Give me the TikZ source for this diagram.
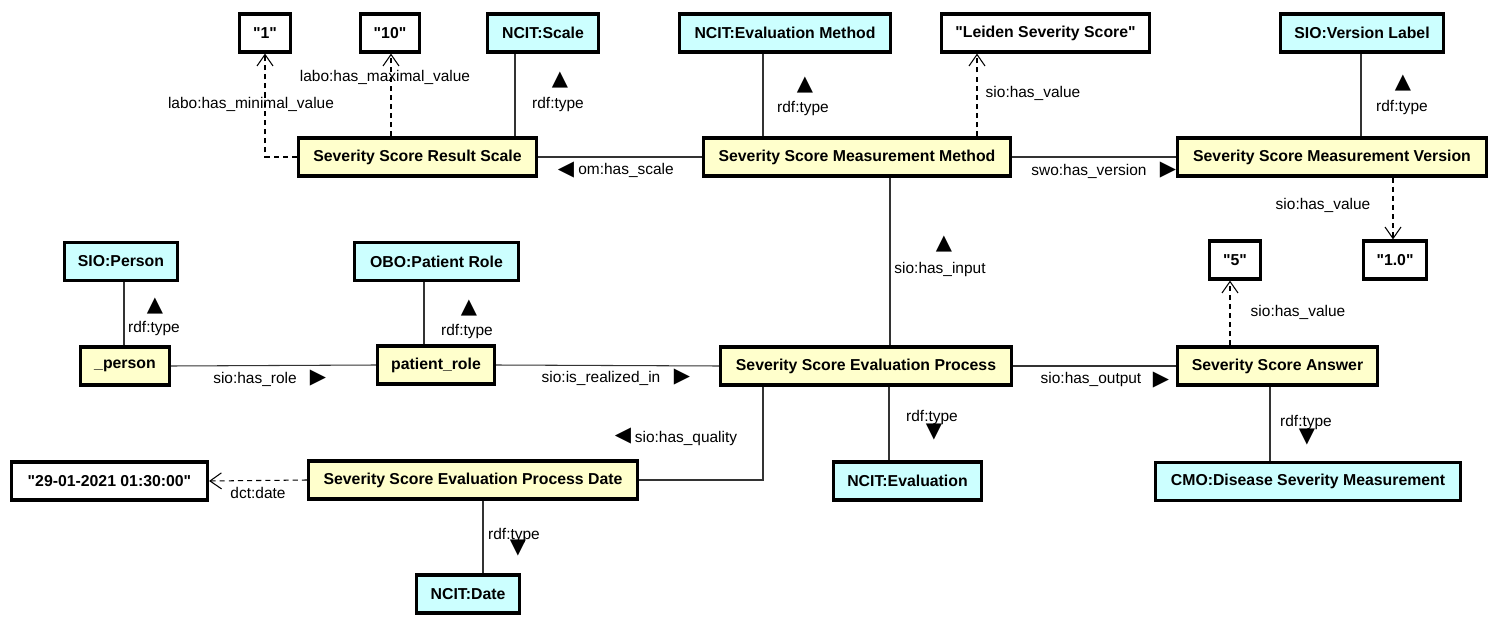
\documentclass[tikz,border=0pt]{standalone}
\usepackage{fontspec}
\setmainfont{Liberation Sans}
\newfontfamily\trifont{DejaVu Sans}
\usepackage{tikz}
\usetikzlibrary{arrows.meta}
\definecolor{InstYellow}{HTML}{FFFFCC}
\definecolor{ClassCyan}{HTML}{CCFFFF}
\definecolor{EdgeGrey}{HTML}{333333}
\newcommand{\litq}[1]{\textquotedbl#1\textquotedbl}
\tikzset{
  box node/.style={rectangle, draw, line width=1.8pt, minimum height=0.76cm,
                   inner sep=0pt, font=\fontsize{9}{10}\selectfont\bfseries},
  inst node/.style={box node, fill=InstYellow},
  cls node/.style={box node, fill=ClassCyan},
  lit node/.style={box node, fill=white},
  rel edge/.style={line width=0.6pt, draw=EdgeGrey},
  val edge/.style={rel edge, draw=black, dash pattern=on 2.9pt off 2.3pt,
                   -{Straight Barb[length=2.3mm, width=3.2mm]}},
  rel label/.style={inner sep=0pt, text height=0.72em, text depth=0.2em,
                    font=\fontsize{8.8}{10}\selectfont},
  dir mark/.style={inner sep=0pt, font=\trifont\fontsize{12}{12}\selectfont},
}

\begin{document}
\begin{tikzpicture}[x=0.02cm, y=-0.02cm]
  \path[use as bounding box, fill=white] (0,0) rectangle (1500,628);
  % literals and classes, top row
  \node[lit node, minimum width=1.02cm] (v1) at (265,33) {\litq{1}};
  \node[lit node, minimum width=1.18cm] (v10) at (390,33) {\litq{10}};
  \node[cls node, minimum width=2.22cm] (scale) at (543,33) {NCIT:Scale};
  \node[cls node, minimum width=4.22cm] (evalm) at (785,33) {NCIT:Evaluation Method};
  \node[lit node, minimum width=4.16cm] (leiden) at (1045.5,33) {\litq{Leiden Severity Score}};
  \node[cls node, minimum width=3.26cm] (verlbl) at (1362,33) {SIO:Version Label};
  % method row
  \node[inst node, minimum width=4.76cm] (rscale) at (417.5,157) {Severity Score Result Scale};
  \node[inst node, minimum width=6.14cm] (method) at (857,157) {Severity Score Measurement Method};
  \node[inst node, minimum width=6.18cm] (version) at (1332,157) {Severity Score Measurement Version};
  \node[lit node, minimum width=1.02cm] (v5) at (1235,260) {\litq{5}};
  \node[lit node, minimum width=1.26cm] (v1p0) at (1395,260) {\litq{1.0}};
  \node[cls node, minimum width=2.26cm] (sioperson) at (121,261.5) {SIO:Person};
  \node[cls node, minimum width=3.28cm] (oborole) at (436.5,261.5) {OBO:Patient Role};
  % process row
  \node[inst node, minimum width=1.78cm] (person) at (125,366) {\_person};
  \node[inst node, minimum width=2.34cm] (role) at (436,365) {patient\_role};
  \node[inst node, minimum width=5.82cm] (process) at (866,366) {Severity Score Evaluation Process};
  \node[inst node, minimum width=4.00cm] (answer) at (1277.5,366) {Severity Score Answer};
  % bottom rows
  \node[lit node, minimum width=3.92cm] (vdate) at (109.5,481) {\litq{29-01-2021 01:30:00}};
  \node[inst node, minimum width=6.58cm] (pdate) at (473,480) {Severity Score Evaluation Process Date};
  \node[cls node, minimum width=2.96cm] (ncitevalu) at (907.5,481) {NCIT:Evaluation};
  \node[cls node, minimum width=6.10cm] (cmo) at (1308,481.5) {CMO:Disease Severity Measurement};
  \node[cls node, minimum width=2.06cm] (ncitdate) at (468,594) {NCIT:Date};

  \draw[val edge] (rscale.west) -| (v1.south);
  \draw[val edge] (391,0 |- rscale.north) -- (391,0 |- v10.south);
  \draw[rel edge] (515,0 |- rscale.north) -- (515,0 |- scale.south);
  \draw[rel edge] (method.west) -- (rscale.east);
  \draw[rel edge] (763,0 |- method.north) -- (763,0 |- evalm.south);
  \draw[val edge] (977,0 |- method.north) -- (977,0 |- leiden.south);
  \draw[rel edge] (method.east) -- (version.west);
  \draw[rel edge] (1361,0 |- version.north) -- (1361,0 |- verlbl.south);
  \draw[val edge] (1393,0 |- version.south) -- (1393,0 |- v1p0.north);
  \draw[rel edge] (890,0 |- method.south) -- (890,0 |- process.north);
  \draw[rel edge] (124,0 |- person.north) -- (124,0 |- sioperson.south);
  \draw[rel edge] (424,0 |- role.north) -- (424,0 |- oborole.south);
  \draw[rel edge] (person.east) -- (role.west);
  \draw[rel edge] (role.east) -- (process.west);
  \draw[rel edge] (process.east) -- (answer.west);
  \draw[val edge] (1230,0 |- answer.north) -- (1230,0 |- v5.south);
  \draw[rel edge] (1270,0 |- answer.south) -- (1270,0 |- cmo.north);
  \draw[rel edge] (889,0 |- process.south) -- (889,0 |- ncitevalu.north);
  \draw[rel edge] (763,0 |- process.south) |- (pdate.east);
  \draw[val edge] (pdate.west) -- (vdate.east);
  \draw[rel edge] (483,0 |- pdate.south) -- (483,0 |- ncitdate.north);

  \node[rel label] (l1) at (251,104) {labo:has\_minimal\_value};
  \node[rel label] (l2) at (385,77) {labo:has\_maximal\_value};
  \node[rel label] (l3) at (558,104) {rdf:type};
  \node[dir mark] (m3) at (560,80) {▲};
  \node[rel label] (l4) at (626,170) {om:has\_scale};
  \node[dir mark] (m4) at (566,170) {◀};
  \node[rel label] (l5) at (803,108) {rdf:type};
  \node[dir mark] (m5) at (805,85) {▲};
  \node[rel label] (l6) at (1033,93) {sio:has\_value};
  \node[rel label] (l7) at (1089,171) {swo:has\_version};
  \node[dir mark] (m7) at (1168,170) {▶};
  \node[rel label] (l8) at (1402,107) {rdf:type};
  \node[dir mark] (m8) at (1403,83) {▲};
  \node[rel label] (l9) at (1323,205) {sio:has\_value};
  \node[rel label] (l10) at (940,269) {sio:has\_input};
  \node[dir mark] (m10) at (944,244) {▲};
  \node[rel label] (l11) at (154,328) {rdf:type};
  \node[dir mark] (m11) at (155,306) {▲};
  \node[rel label] (l12) at (467,331) {rdf:type};
  \node[dir mark] (m12) at (469,308) {▲};
  \node[rel label] (l13) at (255,379) {sio:has\_role};
  \node[dir mark] (m13) at (318,378) {▶};
  \node[rel label] (l14) at (601,378) {sio:is\_realized\_in};
  \node[dir mark] (m14) at (682,377) {▶};
  \node[rel label] (l15) at (1091,379) {sio:has\_output};
  \node[dir mark] (m15) at (1161,380) {▶};
  \node[rel label] (l16) at (1298,312) {sio:has\_value};
  \node[rel label] (l17) at (932,417) {rdf:type};
  \node[dir mark] (m17) at (934,432) {▼};
  \node[rel label] (l18) at (686,438) {sio:has\_quality};
  \node[dir mark] (m18) at (623,436) {◀};
  \node[rel label] (l19) at (1306,422) {rdf:type};
  \node[dir mark] (m19) at (1307,437) {▼};
  \node[rel label] (l20) at (258,494) {dct:date};
  \node[rel label] (l21) at (514,535) {rdf:type};
  \node[dir mark] (m21) at (518,548) {▼};
\end{tikzpicture}
\end{document}
